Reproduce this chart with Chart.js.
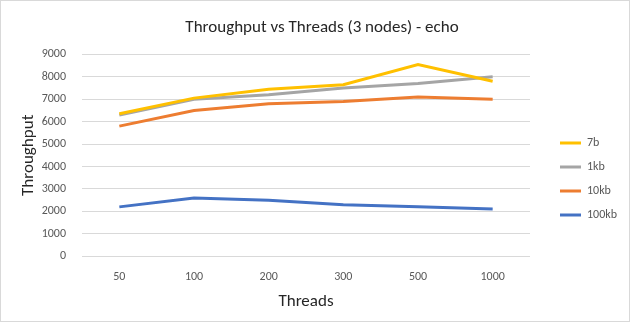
<!DOCTYPE html>
<html>
<head>
<meta charset="utf-8">
<script src="https://cdn.jsdelivr.net/npm/chart.js@4/dist/chart.umd.min.js"></script>
<style>
  html, body { margin: 0; padding: 0; background: #fff; }
  #wrap { position: relative; width: 630px; height: 322px; box-sizing: border-box; border: 1px solid #d9d9d9; }
</style>
</head>
<body>
<div id="wrap"><canvas id="chart"></canvas></div>
<script>
const threads = ['50', '100', '200', '300', '500', '1000'];
const seriesNames = ['7b', '1kb', '10kb', '100kb'];
const tput7b = [6350, 7050, 7450, 7650, 8550, 7800];
const tput1kb = [6300, 7000, 7200, 7500, 7700, 8000];
const tput10kb = [5800, 6500, 6800, 6900, 7100, 7000];
const tput100kb = [2200, 2600, 2500, 2300, 2200, 2100];
const lineColors = ['#FFC000', '#A5A5A5', '#ED7D31', '#4472C4'];

const FONT = 'Calibri, Carlito, "Open Sans", sans-serif';
const LEGEND_W = 99;    // fixed width of the legend column
const LEGEND_DX = 18;   // push entries right, away from the plot
const LEGEND_DY = 12;   // and down a bit
const Y_AXIS_W = 67;

const datasets = [tput7b, tput1kb, tput10kb, tput100kb].map((vals, i) => ({
    label: seriesNames[i],
    data: vals,
    borderColor: lineColors[i],
    backgroundColor: lineColors[i],
    borderWidth: 3,
    pointRadius: 0,
    tension: 0
}));

// fixed-width legend column with its entries nudged away from the plot
const legendGap = {
    id: 'legendGap',
    afterInit(chart) {
        const lg = chart.legend;
        const fit = lg.fit.bind(lg);
        lg.fit = function () { fit(); this.width = LEGEND_W; };
    },
    afterLayout(chart) {
        const lg = chart.legend;
        lg.left += LEGEND_DX; lg.right += LEGEND_DX;
        lg.top += LEGEND_DY; lg.bottom += LEGEND_DY;
    }
};

new Chart(document.getElementById('chart'), {
    type: 'line',
    data: { labels: threads, datasets },
    plugins: [legendGap],
    options: {
        responsive: true, maintainAspectRatio: false, animation: false,
        layout: { padding: { left: 14, right: 0, top: 17, bottom: 5 } },
        plugins: {
            title: {
                display: true, text: 'Throughput vs Threads (3 nodes) - echo',
                color: '#262626', font: { family: FONT, size: 17, weight: 'normal' },
                padding: { top: 0, bottom: 16 }
            },
            legend: {
                position: 'right',
                labels: {
                    color: '#595959', font: { family: FONT, size: 12 },
                    boxWidth: 21, boxHeight: 3, padding: 12,
                    generateLabels: (chart) => Chart.defaults.plugins.legend.labels.generateLabels(chart)
                        .map(l => Object.assign(l, { lineWidth: 0 }))
                }
            },
            tooltip: { enabled: false }
        },
        scales: {
            x: {
                offset: true,
                grid: { display: false },
                border: { display: false },
                ticks: { color: '#595959', font: { family: FONT, size: 12 }, padding: 6 },
                title: { display: true, text: 'Threads', color: '#262626', font: { family: FONT, size: 17 }, padding: { top: 1 } }
            },
            y: {
                min: 0, max: 9000,
                afterFit: (scale) => { scale.width = Y_AXIS_W; },
                ticks: { stepSize: 1000, color: '#595959', font: { family: FONT, size: 12 }, padding: 16,
                    callback: (v) => String(v) },
                grid: { color: '#d9d9d9', drawTicks: false },
                border: { display: false },
                title: { display: true, text: 'Throughput', color: '#262626', font: { family: FONT, size: 17 }, padding: { bottom: 2 } }
            }
        }
    }
});
</script>
</body>
</html>
